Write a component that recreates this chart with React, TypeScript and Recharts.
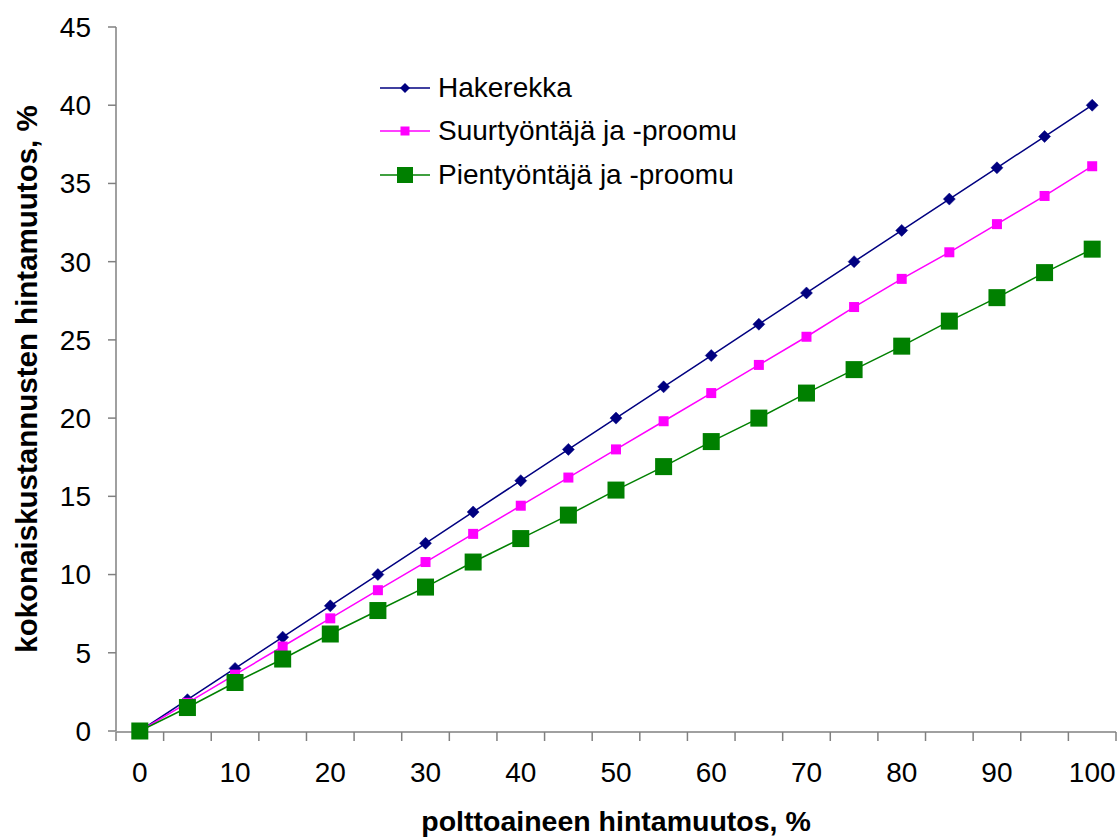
import React from 'react';
import { LineChart, Line, XAxis, YAxis, Legend } from 'recharts';

const categories = [0, 5, 10, 15, 20, 25, 30, 35, 40, 45, 50, 55, 60, 65, 70, 75, 80, 85, 90, 95, 100];
const hakerekka = [0, 2, 4, 6, 8, 10, 12, 14, 16, 18, 20, 22, 24, 26, 28, 30, 32, 34, 36, 38, 40];
const suurtyontaja = [0, 1.8, 3.6, 5.4, 7.2, 9.0, 10.8, 12.6, 14.4, 16.2, 18.0, 19.8, 21.6, 23.4, 25.2, 27.1, 28.9, 30.6, 32.4, 34.2, 36.1];
const pientyontaja = [0, 1.5, 3.1, 4.6, 6.2, 7.7, 9.2, 10.8, 12.3, 13.8, 15.4, 16.9, 18.5, 20.0, 21.6, 23.1, 24.6, 26.2, 27.7, 29.3, 30.8];
const xTickLabels = [0, 10, 20, 30, 40, 50, 60, 70, 80, 90, 100];
const yTickLabels = [0, 5, 10, 15, 20, 25, 30, 35, 40, 45];
const seriesNames = ['Hakerekka', 'Suurtyöntäjä ja -proomu', 'Pientyöntäjä ja -proomu'];
const xTitle = 'polttoaineen hintamuutos, %';
const yTitle = 'kokonaiskustannusten hintamuutos, %';

const data = categories.map((c, i) => ({
  x: c,
  hak: hakerekka[i],
  suur: suurtyontaja[i],
  pien: pientyontaja[i],
}));

const halfStep = (categories[1] - categories[0]) / 2;
const categoryBoundaries = [...categories.map((c) => c - halfStep), categories[categories.length - 1] + halfStep];
const xDomain = [categories[0] - halfStep, categories[categories.length - 1] + halfStep];

const FONT = '"Liberation Sans", Arial, sans-serif';
const NAVY = '#000080';
const MAGENTA = '#FF00FF';
const GREEN = '#008000';
const AXIS = '#808080';

const DiamondDot = (props: any) => {
  const { cx, cy, index } = props;
  if (cx == null || cy == null) return null;
  const s = 6;
  return (
    <polygon
      key={`hd${index}`}
      points={`${cx},${cy - s} ${cx + s},${cy} ${cx},${cy + s} ${cx - s},${cy}`}
      fill={NAVY}
      stroke={NAVY}
      strokeWidth={0.5}
    />
  );
};

const SmallSquareDot = (props: any) => {
  const { cx, cy, index } = props;
  if (cx == null || cy == null) return null;
  const s = 10;
  return <rect key={`sd${index}`} x={cx - s / 2} y={cy - s / 2} width={s} height={s} fill={MAGENTA} />;
};

const BigSquareDot = (props: any) => {
  const { cx, cy, index } = props;
  if (cx == null || cy == null) return null;
  const s = 17;
  return <rect key={`bd${index}`} x={cx - s / 2} y={cy - s / 2} width={s} height={s} fill={GREEN} />;
};

const legendItems = [
  { name: seriesNames[0], color: NAVY, marker: 'diamond' },
  { name: seriesNames[1], color: MAGENTA, marker: 'small' },
  { name: seriesNames[2], color: GREEN, marker: 'big' },
];

const renderLegend = () => (
  <div style={{ fontFamily: FONT, fontSize: 28, color: '#000' }}>
    {legendItems.map((it) => (
      <div key={it.name} style={{ display: 'flex', alignItems: 'center', height: 43.5, whiteSpace: 'nowrap' }}>
        <svg width={50} height={24} style={{ display: 'block' }}>
          <line x1={0} y1={12} x2={50} y2={12} stroke={it.color} strokeWidth={1.5} />
          {it.marker === 'diamond' && <polygon points="25,7 30,12 25,17 20,12" fill={it.color} />}
          {it.marker === 'small' && <rect x={20.5} y={7.5} width={9} height={9} fill={it.color} />}
          {it.marker === 'big' && <rect x={17} y={4} width={16} height={16} fill={it.color} />}
        </svg>
        <span style={{ marginLeft: 8 }}>{it.name}</span>
      </div>
    ))}
  </div>
);

export default function App() {
  return (
    <div style={{ position: 'absolute', left: 0, top: 0, width: 1118, height: 839, background: '#fff' }}>
      <LineChart
        width={1118}
        height={839}
        data={data}
        margin={{ top: 27, right: 2, left: 0, bottom: 106 }}
        style={{ fontFamily: FONT }}
      >
        <XAxis
          xAxisId="ticks"
          type="number"
          dataKey="x"
          domain={xDomain}
          ticks={categoryBoundaries}
          interval={0}
          height={1}
          tickSize={9}
          tickLine={{ stroke: AXIS, strokeWidth: 1.5 }}
          axisLine={{ stroke: AXIS, strokeWidth: 1.5 }}
          tickFormatter={() => ''}
          allowDataOverflow
        />
        <XAxis
          xAxisId="labels"
          type="number"
          dataKey="x"
          domain={xDomain}
          ticks={xTickLabels}
          interval={0}
          height={1}
          tickLine={false}
          axisLine={false}
          tickSize={0}
          tickMargin={31}
          tick={{ fill: '#000', fontSize: 28, fontFamily: FONT }}
          allowDataOverflow
          label={{
            value: xTitle,
            position: 'bottom',
            offset: 79,
            style: { fontSize: 28.5, fontWeight: 'bold', fill: '#000', fontFamily: FONT },
          }}
        />
        <YAxis
          type="number"
          domain={[0, 45]}
          ticks={yTickLabels}
          interval={0}
          width={116}
          tickSize={8}
          tickMargin={17}
          tickLine={{ stroke: AXIS, strokeWidth: 1.5 }}
          axisLine={{ stroke: AXIS, strokeWidth: 1.5 }}
          tick={{ fill: '#000', fontSize: 28, fontFamily: FONT }}
          label={{
            value: yTitle,
            angle: -90,
            position: 'center',
            dx: -31,
            style: { fontSize: 29.5, fontWeight: 'bold', fill: '#000', fontFamily: FONT, textAnchor: 'middle' },
          }}
        />
        <Legend
          layout="vertical"
          align="center"
          verticalAlign="middle"
          content={renderLegend}
          wrapperStyle={{ top: 66, left: 380, width: 500, right: 'auto', bottom: 'auto' }}
        />
        <Line
          xAxisId="labels"
          type="linear"
          dataKey="hak"
          name={seriesNames[0]}
          stroke={NAVY}
          strokeWidth={1.5}
          dot={DiamondDot}
          activeDot={false}
          isAnimationActive={false}
        />
        <Line
          xAxisId="labels"
          type="linear"
          dataKey="suur"
          name={seriesNames[1]}
          stroke={MAGENTA}
          strokeWidth={1.5}
          dot={SmallSquareDot}
          activeDot={false}
          isAnimationActive={false}
        />
        <Line
          xAxisId="labels"
          type="linear"
          dataKey="pien"
          name={seriesNames[2]}
          stroke={GREEN}
          strokeWidth={1.5}
          dot={BigSquareDot}
          activeDot={false}
          isAnimationActive={false}
        />
      </LineChart>
    </div>
  );
}
